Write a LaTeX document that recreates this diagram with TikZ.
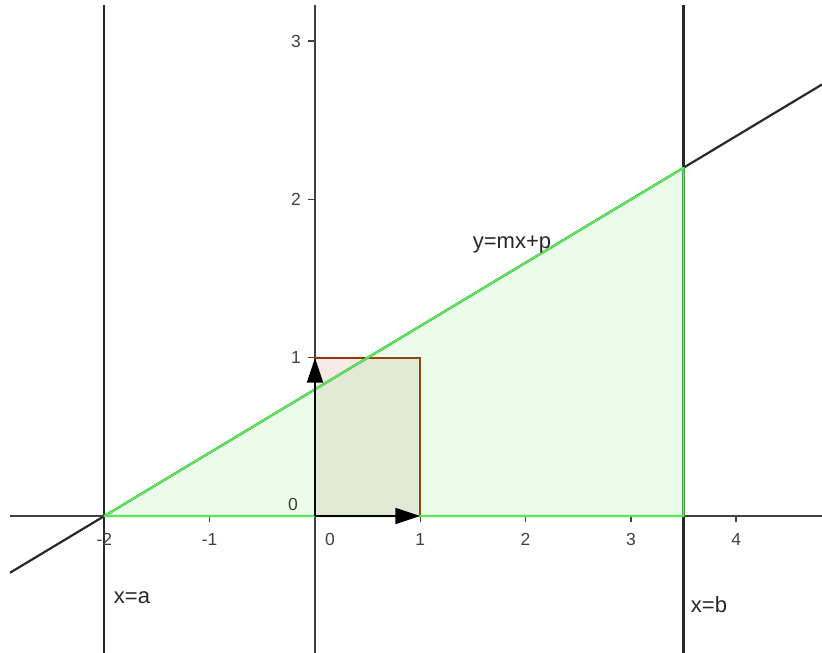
\documentclass[tikz,border=0pt]{standalone}
\usepackage{fontspec}
\setmainfont{Liberation Sans}
\usetikzlibrary{arrows.meta}
\definecolor{geoline}{RGB}{40,40,40}
\definecolor{geoaxis}{RGB}{64,64,64}
\definecolor{geogreen}{RGB}{90,230,90}
\definecolor{geobrown}{RGB}{153,51,0}
\begin{document}
\begin{tikzpicture}[
    x=105.3pt, y=158.3pt,
    axis/.style={geoaxis, line width=2pt},
    vline/.style={geoline, line width=2.2pt},
    tick/.style={geoaxis, line width=1.6pt},
    ticklab/.style={text=geoaxis, font=\fontsize{17.5}{20}\selectfont, inner sep=0pt},
    lab/.style={text=black!85, font=\fontsize{22}{26}\selectfont, inner sep=0pt},
    area/.style={draw=geogreen, fill=geogreen, fill opacity=0.12,
                 line width=2.2pt, line join=round},
    unitsq/.style={draw=geobrown, fill=geobrown, fill opacity=0.1, line width=2pt},
    vec/.style={-{Triangle[length=25pt,width=16pt]}, black, line width=2.2pt},
]
\useasboundingbox (-315pt,-137pt) rectangle (507pt,516pt);

% Key points
\coordinate (O) at (0,0);
\coordinate (A) at (-2,0);
\coordinate (B) at (3.5,0);
\coordinate (C) at (3.5,2.2);
\coordinate (E1) at (1,0);
\coordinate (E2) at (0,1);
\coordinate (Q) at (1,1);

% Axes and ticks
\draw[axis] (-2.8965,0) -- (4.815,0);
\draw[axis] (0,-0.8655) -- (0,3.228);
\foreach \i in {-2,...,4}
    \draw[tick] (\i,0) -- ++(0,-6pt);
\foreach \j in {1,2,3}
    \draw[tick] (0,\j) -- ++(-7pt,0);

% Bounds x=a, x=b and the line y=mx+p
\draw[vline] (-2,-0.8655) -- (-2,3.228);
\draw[vline] (3.5,-0.8655) -- (3.5,3.228);
\draw[vline] (-2.8965,-0.3586) -- (4.815,2.726);

% Unit square and area under the line
\draw[unitsq] (O) rectangle (Q);
\draw[area] (A) -- (B) -- (C) -- cycle;

% Basis vectors
\draw[vec] (O) -- (E1);
\draw[vec] (O) -- (E2);

% Tick labels
\foreach \i in {-2,-1,1,2,3,4}
    \node[ticklab] (tx\i) at ([yshift=-23pt]\i,0) {\i};
\node[ticklab] (tx0) at (15pt,-23pt) {0};
\foreach \j in {1,2,3}
    \node[ticklab] (ty\j) at ([xshift=-19pt]0,\j) {\j};
\node[ticklab] (ty0) at (-22pt,12pt) {0};

% Labels
\node[lab] (eq) at (197pt,272pt) {y=mx+p};
\node[lab] (xa) at (-183pt,-82pt) {x=a};
\node[lab] (xb) at (394pt,-89pt) {x=b};
\end{tikzpicture}
\end{document}
